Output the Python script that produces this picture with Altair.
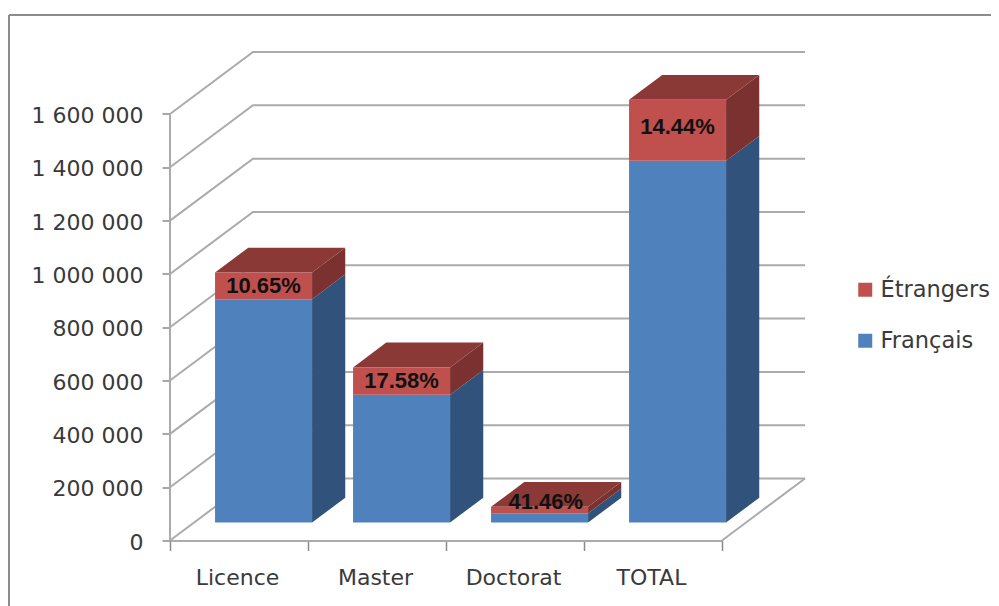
import altair as alt
import pandas as pd

categories = ["Licence", "Master", "Doctorat", "TOTAL"]
francais = [838000, 479000, 35000, 1357000]
etrangers = [100000, 103000, 24000, 229000]
pct_labels = ["10.65%", "17.58%", "41.46%", "14.44%"]
label_nudge_x = [0.0, 0.0, 0.045, 0.0]
label_nudge_y = [0, 0, 30000, 13000]
y_ticks = [0, 200000, 400000, 600000, 800000, 1000000, 1200000, 1400000, 1600000]

BLUE, RED = "#4F81BD", "#C0504D"
BLUE_SIDE, RED_SIDE, RED_TOP = "#31527B", "#7B312F", "#8B3937"
GRID = "#ABABAB"
TEXT = "#3A3A3A"
FONT = "DejaVu Sans"

# oblique projection of the chart's depth axis, in data units
PLOT_W, PLOT_H = 635, 488
CAT_PX = 138.0
VAL_PER_PX = 1600000 / 426.5
DX = 83 / CAT_PX
DY = 62 * VAL_PER_PX
D0, D1 = 0.29, 0.69
BAR_L, BAR_W = 0.152, 0.703
x_scale = alt.Scale(domain=[0, PLOT_W / CAT_PX], nice=False, zero=False)
y_scale = alt.Scale(domain=[0, PLOT_H * VAL_PER_PX], nice=False, zero=False)


def px(i, offset, d):
    return i + BAR_L + offset * BAR_W + d * DX


def py(v, d):
    return v + d * DY


front, sides_fr, sides_et, tops, labels = [], [], [], [], []
for i, cat in enumerate(categories):
    fr, et = francais[i], etrangers[i]
    front.append(dict(serie="Français", x=px(i, 0, D0), x2=px(i, 1, D0), y=py(0, D0), y2=py(fr, D0)))
    front.append(dict(serie="Étrangers", x=px(i, 0, D0), x2=px(i, 1, D0), y=py(fr, D0), y2=py(fr + et, D0)))
    for d in (D0, D1):
        sides_fr.append(dict(face=cat, x=px(i, 1, d), y=py(0, d), y2=py(fr, d)))
        sides_et.append(dict(face=cat, x=px(i, 1, d), y=py(fr, d), y2=py(fr + et, d)))
        tops.append(dict(face=cat, y=py(fr + et, d), x=px(i, 0, d), x2=px(i, 1, d)))
    labels.append(dict(text=pct_labels[i],
                       x=px(i, 0.5, D0) + label_nudge_x[i],
                       y=py(fr + et / 2 + label_nudge_y[i], D0)))

n = len(categories)
grid = []
for v in y_ticks:
    for k, (gx, gy) in enumerate([(0, v), (DX, v + DY), (n + DX, v + DY)]):
        grid.append(dict(line=f"g{v}", k=k, x=gx, y=gy))
for k, (gx, gy) in enumerate([(n, 0), (n + DX, DY)]):
    grid.append(dict(line="floor", k=k, x=gx, y=gy))
for k, (gx, gy) in enumerate([(0, 0), (0, 1600000)]):
    grid.append(dict(line="axis", k=k, x=gx, y=gy))

X = lambda f: alt.X(f, type="quantitative", scale=x_scale, axis=None)
label_expr = "replace(format(datum.value, ','), /,/g, ' ')"
y_axis = alt.Axis(
    values=y_ticks, labelExpr=label_expr, domain=False, grid=False, title=None,
    tickColor="#8A8A8A", tickSize=8, tickWidth=1.5, labelFont=FONT, labelFontSize=22,
    labelColor=TEXT, labelPadding=19, labelOffset=1.5)
Y = lambda f: alt.Y(f, type="quantitative", scale=y_scale, axis=y_axis)

gridlines = alt.Chart(pd.DataFrame(grid)).mark_line(color=GRID, strokeWidth=2).encode(
    x=X("x"), y=Y("y"), detail="line:N", order="k:Q")


def side(rows, color):
    return alt.Chart(pd.DataFrame(rows)).mark_area(color=color, orient="vertical").encode(
        x=X("x"), y=Y("y"), y2="y2:Q", detail="face:N")


tops_layer = alt.Chart(pd.DataFrame(tops)).mark_area(color=RED_TOP, orient="horizontal").encode(
    y=Y("y"), x=X("x"), x2="x2:Q", detail="face:N")

faces = alt.Chart(pd.DataFrame(front)).mark_rect().encode(
    x=X("x"), x2="x2:Q", y=Y("y"), y2="y2:Q",
    color=alt.Color("serie:N",
                    scale=alt.Scale(domain=["Étrangers", "Français"], range=[RED, BLUE]),
                    legend=alt.Legend(title=None, orient="none", legendX=684, legendY=226,
                                      symbolType="square", symbolSize=196, symbolStrokeWidth=0,
                                      labelFont=FONT, labelFontSize=22.5, labelColor=TEXT,
                                      labelOffset=4, rowPadding=28)))

texts = alt.Chart(pd.DataFrame(labels)).mark_text(
    font="Liberation Sans", fontSize=22, fontWeight="bold", color="#111111", baseline="middle"
).encode(x=X("x"), y=Y("y"), text="text:N")

frame_top = alt.Chart(pd.DataFrame({"a": [0]})).mark_rule(color="#8C8C8C", strokeWidth=2).encode(
    x=alt.value(-161), x2=alt.value(830), y=alt.value(-37.5))
frame_left = alt.Chart(pd.DataFrame({"a": [0]})).mark_rule(color="#8C8C8C", strokeWidth=2).encode(
    x=alt.value(-161), y=alt.value(-37.5), y2=alt.value(560))

shared = alt.layer(gridlines, side(sides_fr, BLUE_SIDE), side(sides_et, RED_SIDE), tops_layer,
                   faces, texts, frame_top, frame_left)

x_axis = alt.Chart(pd.DataFrame({"cat": categories})).mark_bar(opacity=0).encode(
    x=alt.X("cat:N", sort=categories,
            scale=alt.Scale(range=[0, 552], paddingInner=0, paddingOuter=0),
            axis=alt.Axis(tickBand="extent", title=None, labelAngle=0, grid=False,
                          domainColor=GRID, domainWidth=2, tickColor="#8A8A8A", tickSize=10,
                          tickWidth=1.5, labelFont=FONT, labelFontSize=22, labelColor=TEXT,
                          labelPadding=17, labelOffset=-2)))

chart = alt.layer(shared, x_axis).resolve_scale(x="independent").properties(
    width=PLOT_W, height=PLOT_H,
    padding={"left": 162, "top": 44.5, "right": 186, "bottom": 65.5},
    autosize=alt.AutoSizeParams(type="none"),
).configure_view(stroke=None)

chart.save("out.html", embed_options={"renderer": "svg", "actions": False})
